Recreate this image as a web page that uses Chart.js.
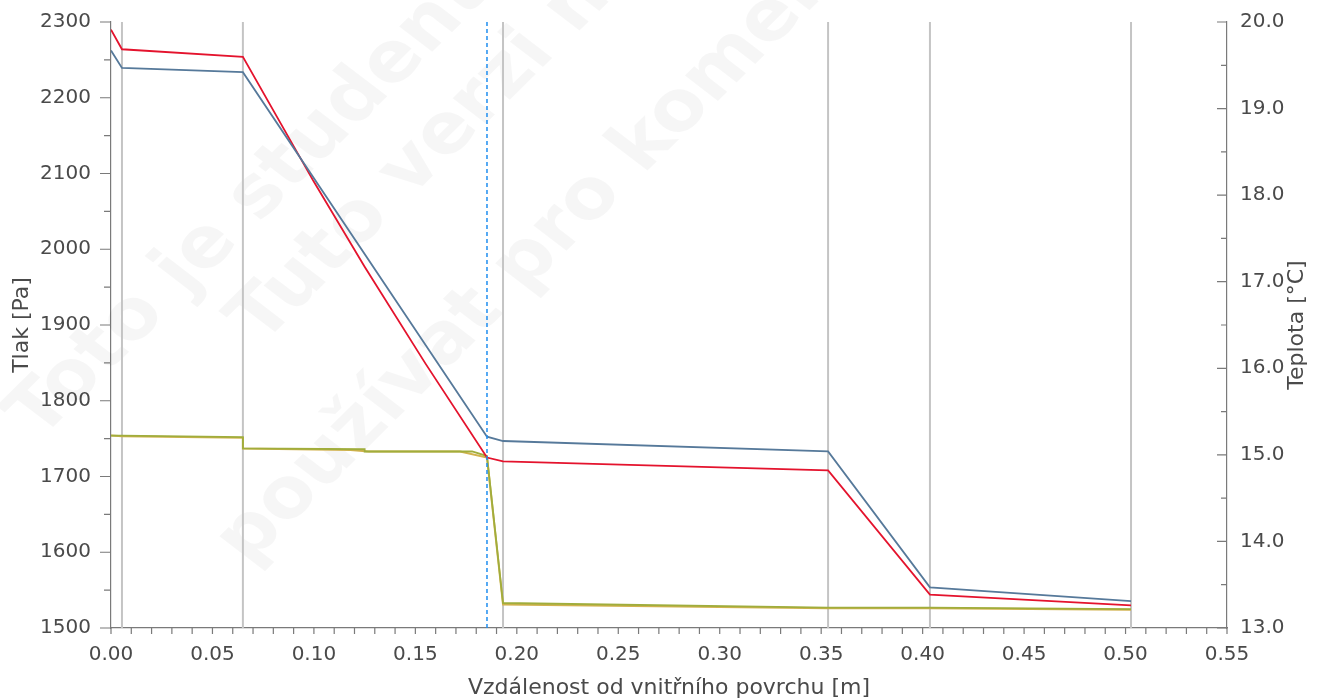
<!DOCTYPE html>
<html>
<head>
<meta charset="utf-8">
<script src="https://cdn.jsdelivr.net/npm/chart.js@4/dist/chart.umd.min.js"></script>
<style>
	html, body { margin: 0; padding: 0; background: #fff; }
	#wrap { width: 1317px; height: 699px; }
</style>
</head>
<body>
<div id="wrap"><canvas id="chart"></canvas></div>
<script>
// layer boundaries and condensation plane [m]
const layerBounds = [0.0054, 0.065, 0.1932, 0.3534, 0.4036, 0.5027];
const condensationPlane = 0.1853;

// saturated vapour pressure [Pa]
const satX = [0, 0.0054, 0.065, 0.10, 0.125, 0.155, 0.1853, 0.1932, 0.3534, 0.4036, 0.5027];
const satPressure = [2290, 2264, 2254, 2089, 1977, 1849, 1725, 1720, 1708, 1544, 1530];

// temperature [°C] (right axis)
const tempX = [0, 0.0054, 0.065, 0.1853, 0.1932, 0.3534, 0.4036, 0.5027];
const temperature = [19.67, 19.47, 19.42, 15.21, 15.16, 15.04, 13.47, 13.31];

// partial vapour pressure [Pa], two nearly identical curves
const vapX = [0, 0.0054, 0.065, 0.065, 0.125, 0.125, 0.178, 0.1853, 0.1932, 0.3534, 0.4036, 0.5027];
const vapPressure = [1754, 1754, 1752, 1737, 1736, 1733, 1733, 1727, 1533, 1527, 1527, 1525];
const vapX2 = [0, 0.0054, 0.065, 0.065, 0.118, 0.127, 0.172, 0.1853, 0.1932, 0.3534, 0.4036, 0.5027];
const vapPressure2 = [1754, 1753, 1751, 1737, 1735, 1733, 1733, 1725, 1531, 1526, 1526, 1524];

// axis ranges
const xRange = [0, 0.55], xStep = 0.05;
const pRange = [1500, 2300], pStep = 100;
const tRange = [13, 20], tStep = 1;

const xTitle = 'Vzdálenost od vnitřního povrchu [m]';
const pTitle = 'Tlak [Pa]';
const tTitle = 'Teplota [°C]';
const watermark = ['Toto je studentská verze', 'Tuto verzi nelze', 'používat pro komerční účely'];

const FONT = '"DejaVu Sans", sans-serif';
const AXIS = '#7a7a7a';
const TEXT = '#4a4a4a';

const pts = (xs, ys) => xs.map((x, i) => ({ x: x, y: ys[i] }));

const boundSets = layerBounds.map((b) => ({
	data: [{ x: b, y: pRange[0] }, { x: b, y: pRange[1] }],
	borderColor: '#c4c4c4',
	borderWidth: 2,
	yAxisID: 'y',
	order: 10,
}));

// ticks, right-hand title and the watermark
const extras = {
	id: 'extras',
	beforeDatasetsDraw(chart) {
		const ctx = chart.ctx;
		ctx.save();
		ctx.font = 'bold 70px ' + FONT;
		ctx.fillStyle = 'rgba(0,0,0,0.035)';
		const anchors = [[40, 440], [262, 345], [248, 566]];
		watermark.forEach((t, i) => {
			ctx.save();
			ctx.translate(anchors[i][0], anchors[i][1]);
			ctx.scale(1.15, 1);
			ctx.rotate(-0.85);
			ctx.fillText(t, 0, 0);
			ctx.restore();
		});
		ctx.restore();
	},
	afterDraw(chart) {
		const { ctx, chartArea: a, scales } = chart;
		ctx.save();
		ctx.strokeStyle = AXIS;
		ctx.lineWidth = 1.2;
		ctx.beginPath();
		for (let v = pRange[0]; v <= pRange[1]; v += pStep / 2) {
			const y = scales.y.getPixelForValue(v);
			const len = (v - pRange[0]) % pStep === 0 ? 11 : 7;
			ctx.moveTo(a.left - len, y);
			ctx.lineTo(a.left, y);
		}
		for (let i = 0; i <= (tRange[1] - tRange[0]) * 2; i++) {
			const y = scales.y2.getPixelForValue(tRange[0] + i / 2);
			const len = i % 2 === 0 ? 10 : 6;
			ctx.moveTo(a.right - len, y);
			ctx.lineTo(a.right, y);
		}
		for (let i = 0; i <= 55; i++) {
			const x = scales.x.getPixelForValue(i / 100);
			ctx.moveTo(x, a.bottom);
			ctx.lineTo(x, a.bottom + 6);
		}
		ctx.stroke();

		ctx.font = '22px ' + FONT;
		ctx.fillStyle = TEXT;
		ctx.textAlign = 'center';
		ctx.textBaseline = 'middle';
		ctx.translate(1297, (a.top + a.bottom) / 2);
		ctx.rotate(-Math.PI / 2);
		ctx.fillText(tTitle, 0, 0);
		ctx.restore();
	}
};

const fitY = (w) => (s) => {
	s.width = w;
	s.paddingTop = 0;
	s.paddingBottom = 0;
};

new Chart(document.getElementById('chart'), {
	type: 'line',
	data: {
		datasets: [
			{
				data: [{ x: condensationPlane, y: pRange[0] }, { x: condensationPlane, y: pRange[1] }],
				borderColor: '#1f8ef0',
				borderWidth: 1.5,
				borderDash: [4, 3],
				yAxisID: 'y',
				order: 0,
			},
			{
				label: 'Teplota',
				data: pts(tempX, temperature),
				borderColor: '#56799a',
				borderWidth: 1.8,
				yAxisID: 'y2',
				order: 1,
			},
			{
				label: 'Nasycený tlak',
				data: pts(satX, satPressure),
				borderColor: '#e4132d',
				borderWidth: 1.8,
				yAxisID: 'y',
				order: 2,
			},
			{
				label: 'Částečný tlak',
				data: pts(vapX, vapPressure),
				borderColor: '#a0ad3c',
				borderWidth: 1.8,
				yAxisID: 'y',
				order: 3,
			},
			{
				label: 'Částečný tlak 2',
				data: pts(vapX2, vapPressure2),
				borderColor: '#d2b24e',
				borderWidth: 2,
				yAxisID: 'y',
				order: 4,
			},
			...boundSets,
		]
	},
	options: {
		responsive: true,
		maintainAspectRatio: false,
		animation: false,
		events: [],
		elements: { point: { radius: 0 }, line: { tension: 0 } },
		layout: { padding: { top: 22, left: 0, right: 0, bottom: 0 } },
		plugins: { legend: { display: false }, tooltip: { enabled: false } },
		scales: {
			x: {
				type: 'linear',
				min: xRange[0],
				max: xRange[1],
				afterFit: (s) => { s.height = 71; },
				grid: { display: false, drawTicks: false },
				border: { display: true, color: AXIS, width: 1.2 },
				ticks: {
					stepSize: xStep,
					padding: 15,
					color: TEXT,
					font: { family: FONT, size: 20 },
					maxRotation: 0,
					callback: (v) => v.toFixed(2),
				},
				title: { display: true, text: xTitle, color: TEXT, font: { family: FONT, size: 22, lineHeight: 1 }, padding: { top: 0, bottom: 0 } },
			},
			y: {
				position: 'left',
				min: pRange[0],
				max: pRange[1],
				afterFit: fitY(111),
				grid: { display: false, drawTicks: false },
				border: { display: true, color: AXIS, width: 1.2 },
				ticks: {
					stepSize: pStep,
					padding: 20,
					color: TEXT,
					font: { family: FONT, size: 20 },
					callback: (v) => String(v),
				},
				title: { display: true, text: pTitle, color: TEXT, font: { family: FONT, size: 22 }, padding: { top: 9, bottom: 0 } },
			},
			y2: {
				position: 'right',
				min: tRange[0],
				max: tRange[1],
				afterFit: fitY(90),
				grid: { display: false, drawTicks: false },
				border: { display: true, color: AXIS, width: 1.2 },
				ticks: {
					stepSize: tStep,
					padding: 13,
					color: TEXT,
					font: { family: FONT, size: 20 },
					callback: (v) => v.toFixed(1),
				},
			},
		}
	},
	plugins: [extras]
});
</script>
</body>
</html>
